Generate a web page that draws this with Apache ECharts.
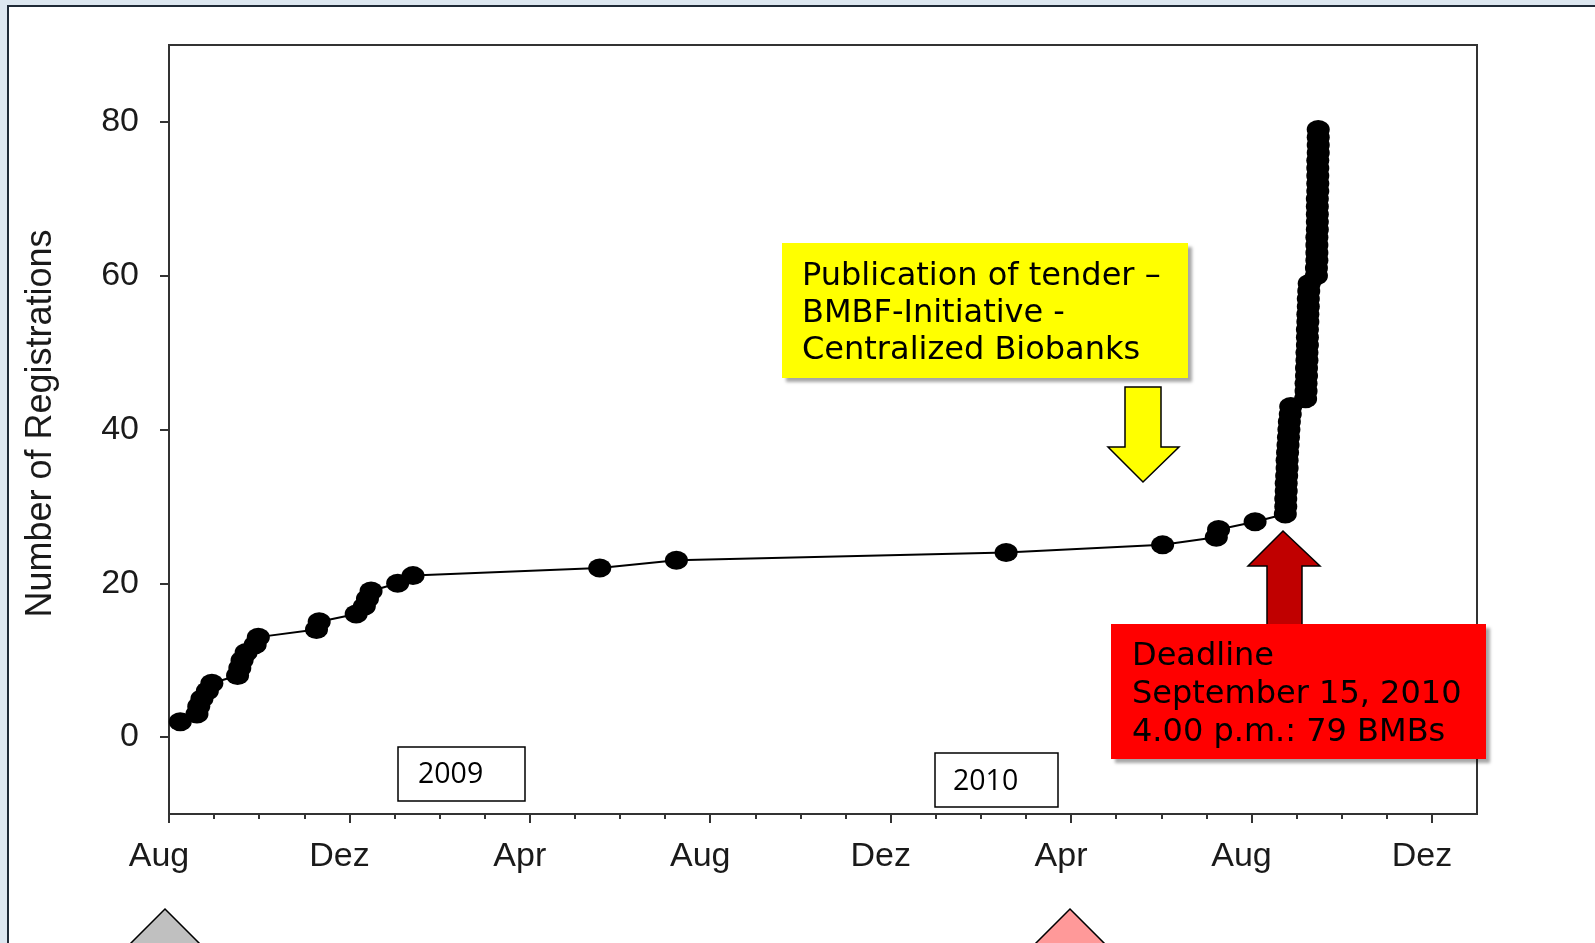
<!DOCTYPE html>
<html>
<head>
<meta charset="utf-8">
<title>Number of Registrations</title>
<script src="https://cdn.jsdelivr.net/npm/echarts@6/dist/echarts.min.js"></script>
<style>
  html, body { margin: 0; padding: 0; background: #dde7f0; }
  #chart { width: 1595px; height: 943px; }
</style>
</head>
<body>
<div id="chart"></div>
<script>
// x = months after 1 Aug 2008, y = cumulative registrations
var monthTicks = [0, 4, 8, 12, 16, 20, 24, 28];
var monthLabels = ['Aug', 'Dez', 'Apr', 'Aug', 'Dez', 'Apr', 'Aug', 'Dez'];
var minorMonths = [1, 2, 3, 5, 6, 7, 9, 10, 11, 13, 14, 15, 17, 18, 19, 21, 22, 23, 25, 26, 27];
var yTicks = [0, 20, 40, 60, 80];

var regMonth = [
    0.25, 0.62, 0.66, 0.73, 0.85, 0.95, 1.52, 1.57, 1.62, 1.71,
    1.91, 1.98, 3.27, 3.33, 4.15, 4.33, 4.40, 4.48, 5.07, 5.41,
    9.55, 11.25, 18.56, 22.03, 23.22, 23.27, 24.08, 24.75, 24.76, 24.76,
    24.77, 24.77, 24.78, 24.79, 24.79, 24.80, 24.81, 24.82, 24.83, 24.84,
    24.86, 24.87, 25.20, 25.21, 25.21, 25.22, 25.22, 25.23, 25.23, 25.24,
    25.24, 25.24, 25.25, 25.25, 25.26, 25.26, 25.27, 25.28, 25.44, 25.44,
    25.45, 25.45, 25.45, 25.45, 25.46, 25.46, 25.46, 25.46, 25.46, 25.47,
    25.47, 25.47, 25.47, 25.47, 25.48, 25.48, 25.48, 25.48
];
var regCount = [
    2, 3, 4, 5, 6, 7, 8, 9, 10, 11,
    12, 13, 14, 15, 16, 17, 18, 19, 20, 21,
    22, 23, 24, 25, 26, 27, 28, 29, 30, 31,
    32, 33, 34, 35, 36, 37, 38, 39, 40, 41,
    42, 43, 44, 45, 46, 47, 48, 49, 50, 51,
    52, 53, 54, 55, 56, 57, 58, 59, 60, 61,
    62, 63, 64, 65, 66, 67, 68, 69, 70, 71,
    72, 73, 74, 75, 76, 77, 78, 79
];

var points = regMonth.map(function (m, i) { return [m, regCount[i]]; });

var axisFont = 'Liberation Sans, Arial, sans-serif';
var boxFont = 'DejaVu Sans, Verdana, sans-serif';

function boxText(x, y, txt, size, family) {
    return {
        type: 'text', x: x, y: y, z: 102,
        style: { text: txt, font: size + 'px ' + family, fill: '#000', verticalAlign: 'middle' }
    };
}

var option = {
    backgroundColor: '#dde7f0',
    animation: false,
    grid: {
        left: 169, right: 118, top: 45, bottom: 129,
        show: true, borderColor: '#333', borderWidth: 2
    },
    xAxis: [
        {
            type: 'value', position: 'bottom', min: 0, max: 29,
            axisLine: { onZero: false, lineStyle: { color: '#333', width: 2 } },
            axisTick: { customValues: monthTicks, length: 9, lineStyle: { color: '#333', width: 2 } },
            axisLabel: {
                customValues: monthTicks,
                formatter: function (v) { return monthLabels[monthTicks.indexOf(v)] || ''; },
                margin: 26, fontSize: 34, fontFamily: axisFont, color: '#1a1a1a',
                padding: [0, 20, 0, 0]
            },
            splitLine: { show: false }
        },
        {
            type: 'value', position: 'bottom', min: 0, max: 29,
            axisLine: { show: false, onZero: false },
            axisTick: { customValues: minorMonths, length: 5, lineStyle: { color: '#333', width: 2 } },
            axisLabel: { show: false },
            splitLine: { show: false }
        }
    ],
    yAxis: {
        type: 'value', min: -10, max: 90,
        name: 'Number of Registrations',
        nameLocation: 'middle', nameGap: 110,
        nameTextStyle: { fontSize: 36, fontFamily: axisFont, color: '#1a1a1a', padding: [0, 0, 0, 12] },
        axisLine: { onZero: false, lineStyle: { color: '#333', width: 2 } },
        axisTick: { customValues: yTicks, length: 9, lineStyle: { color: '#333', width: 2 } },
        axisLabel: {
            customValues: yTicks, margin: 30,
            fontSize: 34, fontFamily: axisFont, color: '#1a1a1a'
        },
        splitLine: { show: false }
    },
    series: [{
        type: 'line',
        data: points,
        symbol: 'circle',
        symbolSize: [23, 19],
        clip: false,
        itemStyle: { color: '#000' },
        lineStyle: { color: '#000', width: 2 }
    }],
    graphic: [
        // slide frame
        { type: 'rect', z: -100, shape: { x: 8, y: 6, width: 1700, height: 1100 },
          style: { fill: '#fff', stroke: '#1f2a36', lineWidth: 2 } },
        // year boxes
        { type: 'rect', z: 101, shape: { x: 398, y: 747, width: 127, height: 54 },
          style: { fill: '#fff', stroke: '#000', lineWidth: 1.5 } },
        boxText(418, 775, '2009', 28.5, 'Open Sans, sans-serif'),
        { type: 'rect', z: 101, shape: { x: 935, y: 753, width: 123, height: 54 },
          style: { fill: '#fff', stroke: '#000', lineWidth: 1.5 } },
        boxText(953, 782, '2010', 28.5, 'Open Sans, sans-serif'),
        // publication box + arrow
        { type: 'rect', z: 101, shape: { x: 782, y: 243, width: 406, height: 135 },
          style: { fill: '#ffff00', shadowColor: 'rgba(0,0,0,0.35)', shadowBlur: 3, shadowOffsetX: 4, shadowOffsetY: 4 } },
        boxText(802, 276.5, 'Publication of tender \u2013', 32, boxFont),
        boxText(802, 313.5, 'BMBF-Initiative -', 32, boxFont),
        boxText(802, 351, 'Centralized Biobanks', 32, boxFont),
        { type: 'polygon', z: 101,
          shape: { points: [[1125, 387], [1161, 387], [1161, 447], [1179, 447], [1143, 482], [1108, 447], [1125, 447]] },
          style: { fill: '#ffff00', stroke: '#000', lineWidth: 1.5 } },
        // deadline arrow + box
        { type: 'polygon', z: 101,
          shape: { points: [[1283, 531], [1320, 566], [1302, 566], [1302, 626], [1267, 626], [1267, 566], [1248, 566]] },
          style: { fill: '#c00000', stroke: '#000', lineWidth: 1.5 } },
        { type: 'rect', z: 101, shape: { x: 1111, y: 624, width: 375, height: 135 },
          style: { fill: '#ff0000', shadowColor: 'rgba(0,0,0,0.35)', shadowBlur: 3, shadowOffsetX: 4, shadowOffsetY: 4 } },
        boxText(1132, 656.5, 'Deadline', 32, boxFont),
        boxText(1132, 695, 'September 15, 2010', 32, boxFont),
        boxText(1132, 732.5, '4.00 p.m.: 79 BMBs', 32, boxFont),
        // arrows at the bottom edge
        { type: 'polygon', z: 101, shape: { points: [[165, 909], [215, 959], [115, 959]] },
          style: { fill: '#c0c0c0', stroke: '#000', lineWidth: 1.5 } },
        { type: 'polygon', z: 101, shape: { points: [[1070, 909], [1120, 959], [1020, 959]] },
          style: { fill: '#ff9999', stroke: '#000', lineWidth: 1.5 } }
    ]
};

var chart = echarts.init(document.getElementById('chart'));
chart.setOption(option);
</script>
</body>
</html>
